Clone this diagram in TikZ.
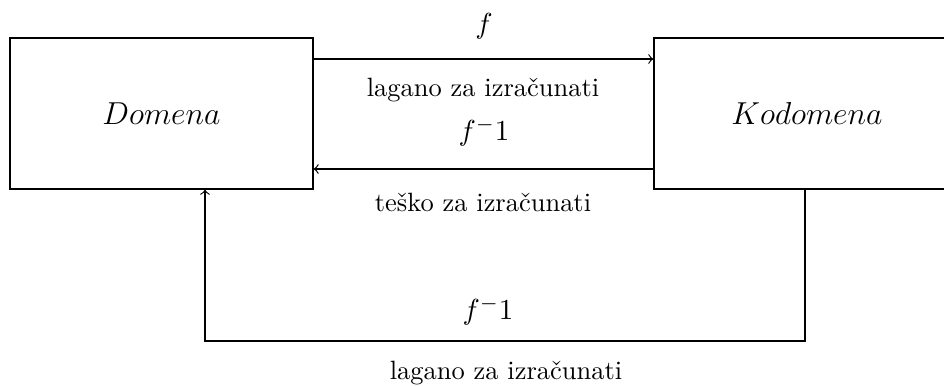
\documentclass[tikz,border=0pt]{standalone}
\begin{document}
\begin{tikzpicture}[x=0.378pt,y=-0.378pt,
  box/.style={draw, line width=0.5pt, inner sep=0pt, font=\large},
  lbl/.style={inner sep=0pt, anchor=center},
  flbl/.style={lbl, font=\fontsize{11}{13.6}\selectfont},
  conn/.style={->, line width=0.45pt}]
\useasboundingbox (0,0) rectangle (944,385);
\node[box, minimum width=114.5pt, minimum height=57.1pt] (dom) at (161.5,113.5) {$Domena$};
\node[box, minimum width=115.7pt, minimum height=57.1pt] (kod) at (807,113.5) {$Kodomena$};
\coordinate (ytop) at (0,59);
\coordinate (ybot) at (0,169);
\coordinate (xr) at (805,0);
\coordinate (xl) at (205,0);
\coordinate (c1) at (805,341);
\coordinate (c2) at (205,341);
\draw[conn] (dom.east |- ytop) -- (kod.west |- ytop);
\draw[conn] (kod.west |- ybot) -- (dom.east |- ybot);
\draw[conn] (kod.south -| xr) -- (c1) -- (c2) -- (dom.south -| xl);
\node[flbl] (f1) at (484,26) {$f$};
\node[lbl] (e1) at (483,90) {lagano za izračunati};
\node[flbl] (f2) at (484,132) {$f^-1$};
\node[lbl] (h1) at (483,202) {teško za izračunati};
\node[flbl] (f3) at (488,311) {$f^-1$};
\node[lbl] (e2) at (506,373) {lagano za izračunati};
\end{tikzpicture}
\end{document}
